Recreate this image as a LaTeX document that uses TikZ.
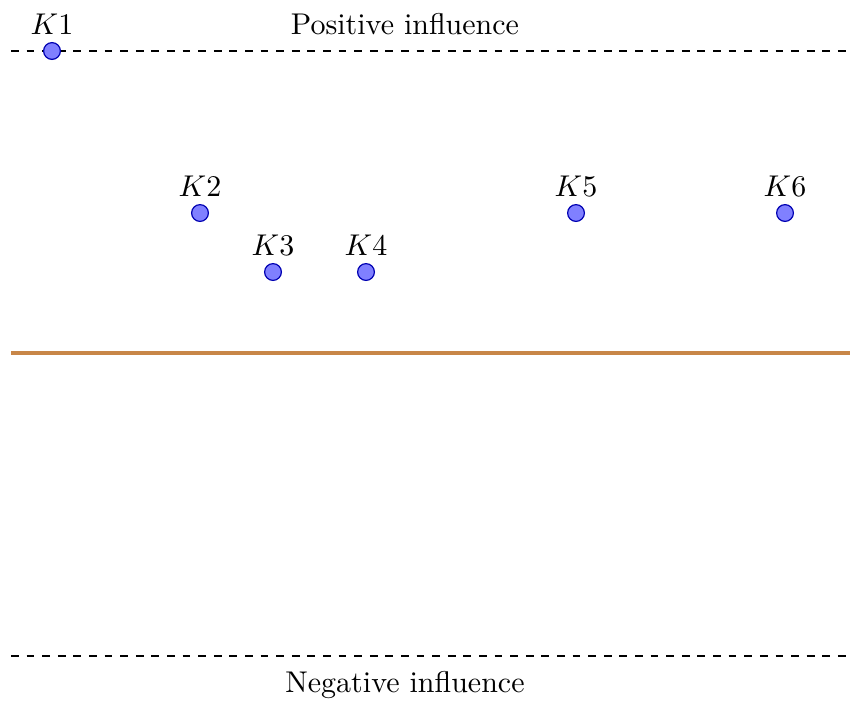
\documentclass[tikz,border=0pt]{standalone}
\definecolor{orangeline}{RGB}{200,134,72}
\begin{document}
\begin{tikzpicture}[x=0.3333pt,y=-0.3333pt,
  pt/.style={circle,draw=blue!70!black,fill=blue!50,minimum size=5.6pt,inner sep=0pt,thin},
  guide/.style={dash pattern=on 2.6pt off 2.6pt,thin,black},
  every label/.style={label distance=-1pt}]
\useasboundingbox (0,0) rectangle (850,700);
\coordinate (tl) at (11,51);
\coordinate (tr) at (850,51);
\coordinate (ml) at (11,353);
\coordinate (mr) at (850,353);
\coordinate (bl) at (11,656);
\coordinate (br) at (850,656);
\draw[guide] (tl) -- (tr);
\draw[guide] (bl) -- (br);
\draw[orangeline,line width=1.1pt] (ml) -- (mr);
\node (pos) at (405,24) {Positive influence};
\node (neg) at (405,685) {Negative influence};
\node[pt,label={[label distance=-1pt]above:{$K1$}}] (k1) at (52,51) {};
\node[pt,label={[label distance=-1pt]above:{$K2$}}] (k2) at (200,213) {};
\node[pt,label={[label distance=-1pt]above:{$K3$}}] (k3) at (273,272) {};
\node[pt,label={[label distance=-1pt]above:{$K4$}}] (k4) at (366,272) {};
\node[pt,label={[label distance=-1pt]above:{$K5$}}] (k5) at (576,213) {};
\node[pt,label={[label distance=-1pt]above:{$K6$}}] (k6) at (785,213) {};
\end{tikzpicture}
\end{document}
